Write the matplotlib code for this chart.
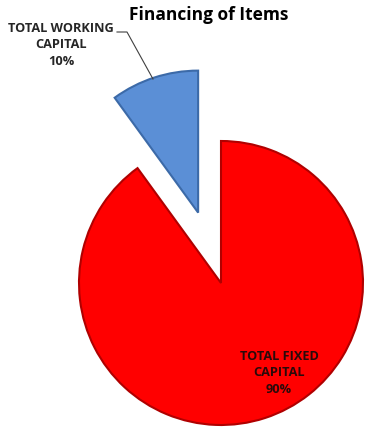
import matplotlib.pyplot as plt

labels = ['TOTAL WORKING\nCAPITAL', 'TOTAL FIXED\nCAPITAL']
shares = [10, 90]
colors = ['#5B8FD6', '#FF0000']
edges = ['#3C6AA8', '#B00000']

fig = plt.figure(figsize=(3.7, 4.35), dpi=100)
ax = fig.add_axes([0, 0, 1, 1])

# explode is in data units here (radius is 142)
wedges, _ = ax.pie(shares, colors=colors, startangle=90, counterclock=True,
                   explode=[74, 0], center=(221, 151), radius=142,
                   frame=True)
ax.set_xlim(0, 370)
ax.set_ylim(0, 435)
ax.set_aspect('equal')
ax.axis('off')
for w, ec in zip(wedges, edges):
    w.set_edgecolor(ec)
    w.set_linewidth(1.5)

font = ['Open Sans', 'DejaVu Sans']
ax.text(209, 420, 'Financing of Items', ha='center', va='center',
        fontsize=12.5, fontweight='bold', family=font)

ax.text(61, 390, f'{labels[0]}\n{shares[0]}%', ha='center', va='center',
        fontsize=9.2, fontweight='bold', family=font, color='#262626',
        linespacing=1.35)
ax.plot([117, 127, 153], [402, 402, 355], color='#404040', lw=0.8)

ax.text(279, 62, f'{labels[1]}\n{shares[1]}%', ha='center', va='center',
        fontsize=9.2, fontweight='bold', family=font, color='#2a0a0a',
        linespacing=1.35)

fig.savefig('out.png', dpi=100)
